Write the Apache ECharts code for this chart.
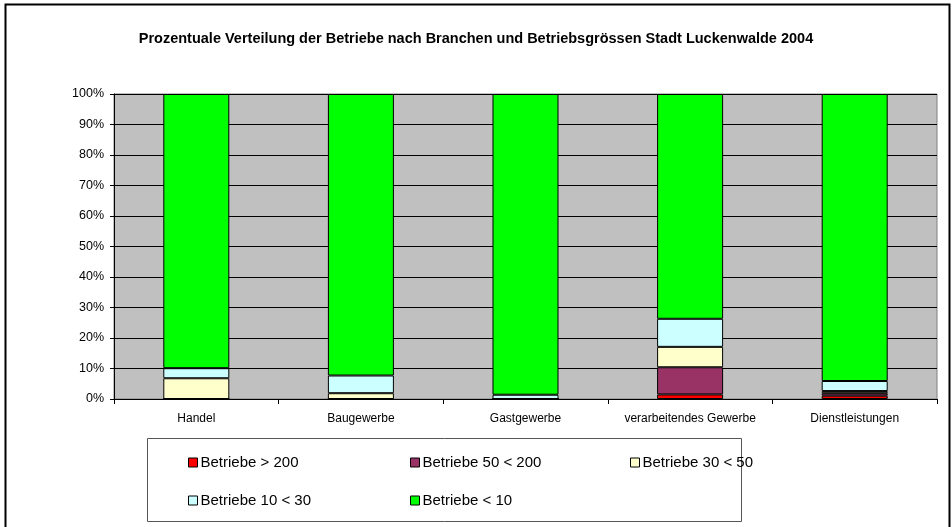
<!DOCTYPE html>
<html>
<head>
<meta charset="utf-8">
<script src="https://cdn.jsdelivr.net/npm/echarts@6/dist/echarts.min.js"></script>
<style>
  html, body { margin: 0; padding: 0; background: #fff; }
  #chart { width: 952px; height: 527px; }
</style>
</head>
<body>
<div id="chart"></div>
<script>
// Branchen
const branchen = ['Handel', 'Baugewerbe', 'Gastgewerbe', 'verarbeitendes Gewerbe', 'Dienstleistungen']

// Anteile in % je Betriebsgroesse
const ueber200 = [0, 0, 0, 1.5, 1.1]
const von50bis200 = [0, 0, 0, 8.9, 0.8]
const von30bis50 = [6.8, 1.9, 0, 6.7, 0.7]
const von10bis30 = [3.3, 5.8, 1.4, 9.2, 3.3]
const unter10 = [89.9, 92.3, 98.6, 73.7, 94.1]

const reihen = ['Betriebe > 200', 'Betriebe 50 < 200', 'Betriebe 30 < 50', 'Betriebe 10 < 30', 'Betriebe < 10']
const werte = [ueber200, von50bis200, von30bis50, von10bis30, unter10]
const farben = ['#FF0000', '#993366', '#FFFFCC', '#CCFFFF', '#00FF00']

const yTicks = { min: 0, max: 100, interval: 10 }

const chart = echarts.init(document.getElementById('chart'))

// legend positions (two rows, three columns)
const legendPos = [[183, 450], [405, 450], [625, 450], [183, 488], [405, 488]]

const option = {
  animation: false,
  textStyle: { fontFamily: 'Liberation Sans, Arial, sans-serif' },
  title: {
    text: 'Prozentuale Verteilung der Betriebe nach Branchen und Betriebsgrössen Stadt Luckenwalde 2004',
    left: 'center',
    top: 26,
    textStyle: { fontSize: 14.5, fontWeight: 'bold', color: '#000' }
  },
  graphic: [
    {
      type: 'rect',
      shape: { x: 5.5, y: 4.5, width: 944, height: 540 },
      style: { fill: 'none', stroke: '#000', lineWidth: 2 },
      silent: true
    },
    {
      type: 'rect',
      shape: { x: 147.5, y: 438.5, width: 594, height: 83 },
      style: { fill: 'none', stroke: '#555', lineWidth: 1 },
      silent: true
    }
  ],
  legend: reihen.map((name, i) => ({
    data: [name],
    left: legendPos[i][0],
    top: legendPos[i][1],
    icon: 'rect',
    itemWidth: 9,
    itemHeight: 9,
    itemGap: 4,
    selectedMode: false,
    itemStyle: { borderColor: '#000', borderWidth: 1 },
    textStyle: { fontSize: 15, color: '#000', padding: [0, 0, 0, -2] }
  })),
  grid: {
    left: 114,
    right: 15,
    top: 94,
    height: 305,
    show: true,
    backgroundColor: '#C0C0C0',
    borderColor: '#808080',
    borderWidth: 1
  },
  xAxis: {
    type: 'category',
    data: branchen,
    axisLine: { lineStyle: { color: '#000', width: 1 } },
    axisTick: { show: true, interval: 0, length: 5, lineStyle: { color: '#000' } },
    axisLabel: { color: '#000', fontSize: 12, margin: 14, interval: 0 }
  },
  yAxis: {
    type: 'value',
    min: yTicks.min,
    max: yTicks.max,
    interval: yTicks.interval,
    axisLine: { show: true, lineStyle: { color: '#000' } },
    axisTick: { show: true, length: 4, lineStyle: { color: '#000' } },
    axisLabel: { color: '#000', fontSize: 12.5, margin: 10, formatter: '{value}%' },
    splitLine: { lineStyle: { color: '#000', width: 1 } }
  },
  series: reihen.map((name, i) => ({
    name: name,
    type: 'bar',
    stack: 'gesamt',
    barWidth: 66,
    data: werte[i],
    itemStyle: { color: farben[i], borderColor: '#000', borderWidth: 1 }
  }))
}

chart.setOption(option)
</script>
</body>
</html>
